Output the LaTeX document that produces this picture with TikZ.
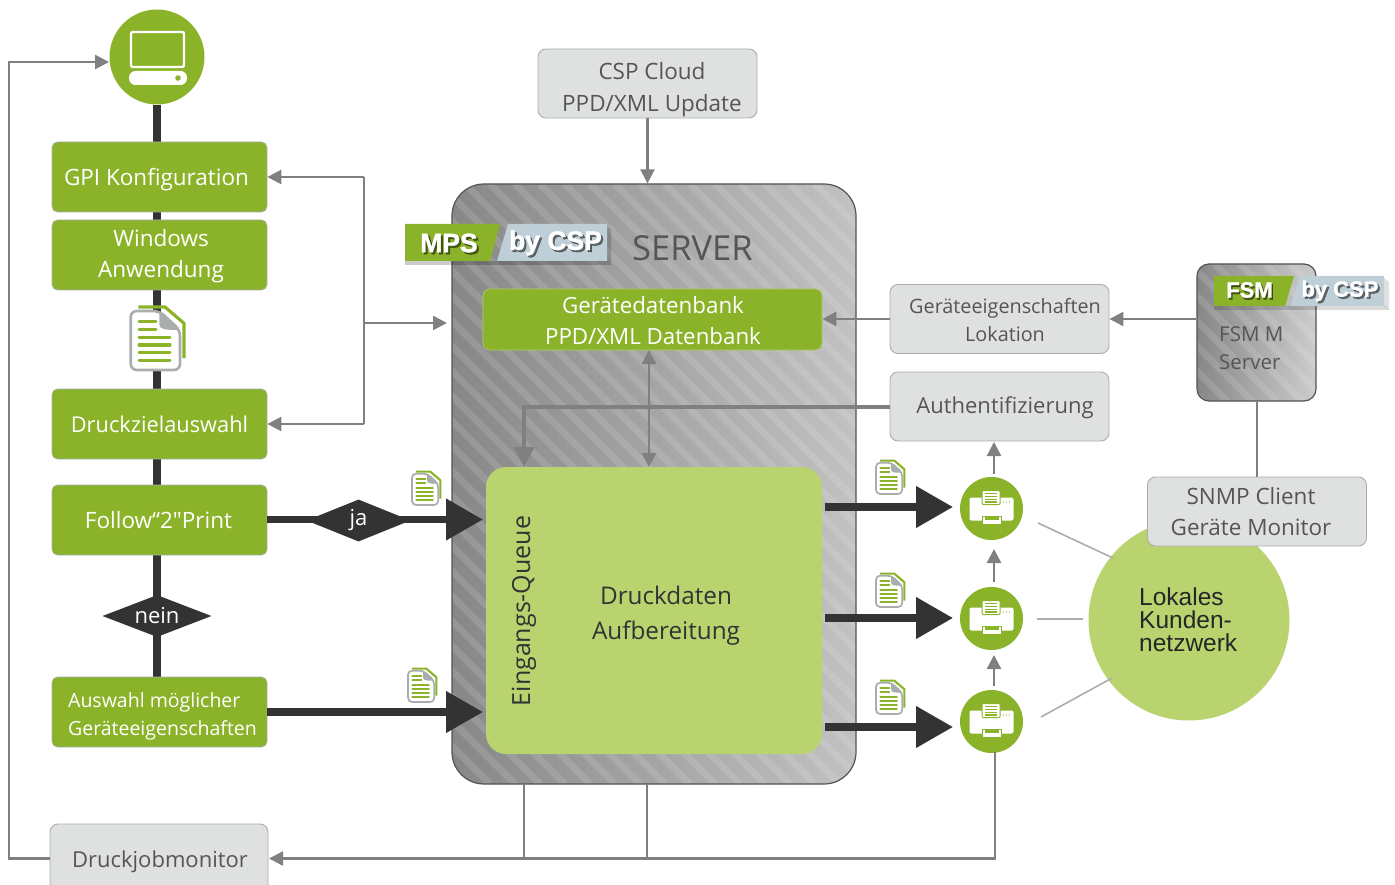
\documentclass[tikz,border=0pt]{standalone}
\usepackage{fontspec}
\setmainfont{Open Sans}
\newfontfamily\rawfont{Open Sans}
\newfontfamily\badgefont{Liberation Sans}[BoldFeatures={FakeBold=1.4}]
\newfontfamily\netfont{Liberation Sans}
\usetikzlibrary{arrows.meta,calc,shapes.geometric}
\pgfdeclarelayer{bg}
\pgfsetlayers{bg,main}
\definecolor{gr}{HTML}{8BB32A}
\definecolor{lgr}{HTML}{B9D46F}
\definecolor{boxg}{HTML}{DFE1E1}
\definecolor{boxb}{HTML}{A9ADAD}
\definecolor{txtg}{HTML}{555555}
\definecolor{conn}{HTML}{808080}
\definecolor{dark}{HTML}{333333}
\definecolor{csp}{HTML}{BFCFD8}
\tikzset{
  x=1pt,y=-1pt,
  greenbox/.style={draw=boxb,line width=.7pt,fill=gr,rounded corners=5.5pt,minimum width=215pt,minimum height=70pt,inner sep=0pt},
  graybox/.style={draw=boxb,line width=.9pt,fill=boxg,rounded corners=8pt,minimum width=219pt,minimum height=69pt,inner sep=0pt},
  glab/.style={text=white,align=center,inner sep=0pt,font=\fontsize{22.5}{31}\selectfont},
  tlab/.style={text=txtg,align=center,inner sep=0pt,font=\fontsize{22.5}{32}\selectfont},
  badge/.style={text=white,inner sep=0pt,font=\badgefont\bfseries\fontsize{26.5}{28}\selectfont},
  badgeshadow/.style={badge,text=black,text opacity=.5},
  diam/.style={diamond,fill=dark,text=white,inner sep=0pt,aspect=2.4,font=\fontsize{22}{26}\selectfont},
  thin conn/.style={draw=conn,line width=2.4pt},
  thin arrow/.style={thin conn,-{Triangle[length=14pt,width=14pt]}},
  thick arrow/.style={draw=dark,line width=7.5pt,-{Triangle[length=37pt,width=40pt]}},
  spine/.style={draw=dark,line width=8pt},
  netline/.style={draw=boxb,line width=1.6pt},
  stripe/.style={draw=white,draw opacity=.12,line width=7pt},
  iconc/.style={circle,fill=gr,draw=none,inner sep=0pt},
  docicon/.pic={
    \draw[gr,line width=#1*3.2pt,line join=round] (-18.7,-31) -- (8,-31) -- (27,-14.7) -- (27,20);
    \draw[fill=white,draw=boxb,line width=#1*2.6pt,rounded corners=#1*6pt] (-26.3,-27) -- (2.3,-27) -- (23,-8) -- (23,32) -- (-26.3,32) -- cycle;
    \fill[boxb] (2.3,-27) -- (2.3,-14) .. controls (2.3,-9) and (6,-8) .. (23,-8) -- cycle;
    \foreach \yy in {-16.3,-8.7} \draw[gr,line width=#1*3pt,line cap=round] (-18,\yy) -- (-1,\yy);
    \foreach \yy in {-.7,7,14.7,22.7} \draw[gr,line width=#1*3pt,line cap=round] (-18,\yy) -- (13,\yy);
  },
  printericon/.pic={
    \fill[white,rounded corners=2pt] (-22,-11) rectangle (22,12);
    \draw[fill=white,draw=gr,line width=1pt,rounded corners=1pt] (-9.5,-18) rectangle (8.5,-4);
    \foreach \yy in {-15,-12,-9,-6.5} \draw[gr,line width=1.1pt] (-6.5,\yy) -- (5.5,\yy);
    \draw[fill=white,draw=gr,line width=1pt] (-9.5,8) -- (9.5,8) -- (9.5,16) -- (-9.5,16) -- cycle;
    \fill[gr] (-7,8) rectangle (7,11.5);
    \foreach \xx in {12,15,18} \fill[gr] (\xx,-6.5) circle (.7);
  },
}
\begin{document}
\begin{tikzpicture}
\useasboundingbox (0,0) rectangle (1395,885);
% server
\path[left color=black!47,right color=black!24] (452,184) [rounded corners=32pt] rectangle (856,784);
\begin{scope}
  \clip[rounded corners=32pt] (452,184) rectangle (856,784);
  \foreach \i in {0,...,42} \draw[stripe] ({-160+25*\i},184) -- ({440+25*\i},784);
\end{scope}
\node[draw=dark!85,line width=1.2pt,rounded corners=32pt,minimum width=404pt,minimum height=600pt,inner sep=0pt] (server) at (654,484) {};
\node[anchor=west,text=txtg,font=\fontsize{34.5}{36}\selectfont,inner sep=0pt] (servlabel) at (632,248) {SERVER};
% MPS badge
\fill[black,opacity=.2] (405,261) -- (607,261) -- (611,265) -- (405,265) -- cycle;
\fill[black,opacity=.16] (607,226) -- (611,230) -- (611,265) -- (607,261) -- cycle;
\fill[gr] (405,224) -- (500,224) -- (490,261) -- (405,261) -- cycle;
\fill[csp] (508,224) -- (607,224) -- (607,261) -- (497,261) -- cycle;
\node[badgeshadow] (mpss) at (451,245) {MPS};
\node[badgeshadow] (bycsps) at (557.5,245) {by CSP};
\node[badge] (mps) at (449,243) {MPS};
\node[badge] (bycsp) at (555.5,243) {by CSP};
% inside server
\node[draw=gr!70!white,line width=.6pt,fill=gr,rounded corners=7pt,minimum width=339pt,minimum height=61pt,inner sep=0pt] (db) at (652.5,319.5) {};
\node[glab,font=\fontsize{22.3}{31}\selectfont] (dbt) at (653,320.5) {Gerätedatenbank\\PPD/XML Datenbank};
\node[fill=lgr,rounded corners=20pt,minimum width=336pt,minimum height=287pt,inner sep=0pt] (queue) at (654,610.5) {};
\node[rotate=90,text=dark,font=\fontsize{25}{28}\selectfont,inner sep=0pt] (eq) at (524,611) {Eingangs-Queue};
\node[text=dark,align=center,font=\fontsize{24.3}{35}\selectfont,inner sep=0pt] (druck) at (666,616) {Druckdaten\\Aufbereitung};
% left column
\node[iconc,minimum size=95pt] (laptop) at (157,57) {};
\draw[white,line width=2.4pt,rounded corners=2pt] (131,32) rectangle (184,67);
\fill[white,rounded corners=6.5pt] (129,71) rectangle (187,85);
\fill[gr] (178,78) circle (2.8);
\node[greenbox] (gpi) at (159.5,177) {};
\node[glab] (gpit) at (156.5,180) {GPI Konfiguration};
\node[greenbox] (win) at (159.5,255) {};
\node[glab] (wint) at (161,256) {Windows\\Anwendung};
\node[greenbox] (drz) at (159.5,424) {};
\node[glab,font=\fontsize{21.8}{30}\selectfont] (drzt) at (159.5,424) {Druckzielauswahl};
\node[greenbox] (f2p) at (159.5,520) {};
\node[glab] (f2pt) at (158.5,520) {Follow“2{\rawfont"}Print};
\node[greenbox] (ausw) at (159.5,712) {};
\node[glab,align=left,font=\fontsize{19.5}{28}\selectfont] (auswt) at (162.5,716) {Auswahl möglicher\\Geräteeigenschaften};
\node[graybox,minimum width=218pt,minimum height=76pt] (mon) at (159,862) {};
\node[tlab,font=\fontsize{22}{30}\selectfont] (mont) at (160,862) {Druckjobmonitor};
\begin{pgfonlayer}{bg}
\draw[spine] (laptop.south) -- (laptop.south |- ausw.north);
\end{pgfonlayer}
\pic at (157,338) {docicon=1};
\pic[scale=.53] at (426,488) {docicon=.66};
\pic[scale=.53] at (422,685) {docicon=.66};
\pic[scale=.53] at (890,477) {docicon=.66};
\pic[scale=.53] at (890,590) {docicon=.66};
\pic[scale=.53] at (890,697) {docicon=.66};
% gray boxes
\node[graybox] (cloud) at (647.5,83.5) {};
\node[tlab] (cloudt) at (652,89.5) {CSP Cloud\\PPD/XML Update};
\node[graybox] (geig) at (999.5,319) {};
\node[tlab,font=\fontsize{19.8}{28}\selectfont] (geigt) at (1005,320) {Geräteeigenschaften\\Lokation};
\node[graybox] (auth) at (999.5,406.5) {};
\node[tlab,font=\fontsize{22}{30}\selectfont] (autht) at (1005,408) {Authentifizierung};
% network
\node[circle,fill=lgr,minimum size=201pt,inner sep=0pt] (net) at (1189,620) {};
\node[graybox] (snmp) at (1257,511.5) {};
\node[tlab,font=\fontsize{22.5}{31}\selectfont] (snmpt) at (1251,512) {SNMP Client\\Geräte Monitor};
\node[anchor=west,align=left,text=black!85,font=\netfont\fontsize{24.5}{23}\selectfont,inner sep=0pt] (lok) at (1139,620) {Lokales\\Kunden-\\netzwerk};
% FSM
\path[left color=black!47,right color=black!20,rounded corners=12pt] (1197,264) rectangle (1316,401);
\begin{scope}
  \clip[rounded corners=12pt] (1197,264) rectangle (1316,401);
  \foreach \i in {0,...,11} \draw[stripe] ({1040+25*\i},264) -- ({1177+25*\i},401);
\end{scope}
\node[draw=dark!85,line width=1.2pt,rounded corners=12pt,minimum width=119pt,minimum height=137pt,inner sep=0pt] (fsm) at (1256.5,332.5) {};
\fill[black,opacity=.15] (1214,306) -- (1385,306) -- (1389,310) -- (1214,310) -- cycle;
\fill[black,opacity=.12] (1384,278) -- (1389,282) -- (1389,310) -- (1384,306) -- cycle;
\fill[gr] (1214,276) -- (1294,276) -- (1285,306) -- (1214,306) -- cycle;
\fill[csp] (1300,276) -- (1384,276) -- (1384,306) -- (1291,306) -- cycle;
\node[badgeshadow,font=\badgefont\bfseries\fontsize{22}{24}\selectfont] (fsmbs) at (1251,292) {FSM};
\node[badgeshadow,font=\badgefont\bfseries\fontsize{22}{24}\selectfont] (fsmcs) at (1342,293) {by CSP};
\node[badge,font=\badgefont\bfseries\fontsize{22}{24}\selectfont] (fsmb) at (1249.5,290) {FSM};
\node[badge,font=\badgefont\bfseries\fontsize{22}{24}\selectfont] (fsmc) at (1340,291) {by CSP};
\node[anchor=west,align=left,text=txtg,font=\fontsize{20.5}{28}\selectfont,inner sep=0pt] (fsml) at (1219,348) {FSM M\\Server};
% printers
\node[iconc,minimum size=63pt] (pa) at (991.5,508.5) {};
\node[iconc,minimum size=63pt] (pb) at (991.5,618.5) {};
\node[iconc,minimum size=63pt] (pc) at (991.5,721.5) {};
\pic at (pa) {printericon};
\pic at (pb) {printericon};
\pic at (pc) {printericon};
% free-end coordinates
\coordinate (srvA) at (483,519.5);
\coordinate (srvB) at (483,712);
\coordinate (hubT) at (364,177);
\coordinate (hubB) at (364,424);
\coordinate (hubM) at (364,323);
\coordinate (srvM) at (447,323);
\coordinate (dbB) at (649,350);
\coordinate (qT) at (649,467);
\coordinate (authQ) at (524,406.5);
\coordinate (qA) at (524,467);
\coordinate (qoA) at (825,507);
\coordinate (qoB) at (825,618);
\coordinate (qoC) at (825,727);
\coordinate (paA) at (953,507);
\coordinate (pbA) at (953,618);
\coordinate (pcA) at (953,727);
\coordinate (upA) at (994,474);
\coordinate (upAt) at (994,442);
\coordinate (upB) at (994,582);
\coordinate (upBt) at (994,549);
\coordinate (upC) at (994,686);
\coordinate (upCt) at (994,655);
\coordinate (botA) at (524,784);
\coordinate (botB) at (647,784);
\coordinate (busA) at (524,858.5);
\coordinate (busB) at (647,858.5);
\coordinate (pcB) at (995,752);
\coordinate (busC) at (995,858.5);
\coordinate (monE) at (269,858.5);
\coordinate (monW) at (50,858.5);
\coordinate (lfB) at (9,858.5);
\coordinate (lfT) at (9,62);
\coordinate (lapW) at (109,62);
\coordinate (nA1) at (1038,523);\coordinate (nA2) at (1113,558);
\coordinate (nB1) at (1037,619);\coordinate (nB2) at (1083,619);
\coordinate (nC1) at (1041,717);\coordinate (nC2) at (1112,678);
% thin connectors
\draw[thin arrow] (cloud.south) -- (cloud.south |- server.north);
\draw[thin conn] (hubT) -- (hubB);
\draw[thin arrow] (hubT) -- (gpi.east);
\draw[thin arrow] (hubB) -- (drz.east);
\draw[thin arrow] (hubM) -- (srvM);
\draw[thin arrow] (geig.west) -- (db.east |- geig.west);
\draw[thin arrow] (fsm.west |- geig.east) -- (geig.east);
\draw[thin conn,{Triangle[length=14pt,width=14pt]}-{Triangle[length=14pt,width=14pt]}] (dbB) -- (qT);
\draw[draw=conn,line width=4pt,-{Triangle[length=20pt,width=20pt]}] (auth.west) -- (authQ) -- (qA);
\draw[thin arrow] (upA) -- (upAt);
\draw[thin arrow] (upB) -- (upBt);
\draw[thin arrow] (upC) -- (upCt);
\draw[thin conn] (fsm.south -| 1257,0) -- (snmp.north);
\draw[thin conn] (botA) -- (busA);
\draw[thin conn] (botB) -- (busB);
\draw[thin arrow] (pcB) -- (busC) -- (monE);
\draw[thin arrow] (monW) -- (lfB) -- (lfT) -- (lapW);
\draw[netline] (nA1) -- (nA2);
\draw[netline] (nB1) -- (nB2);
\draw[netline] (nC1) -- (nC2);
% thick arrows
\draw[thick arrow] (f2p.east |- srvA) -- (srvA);
\draw[thick arrow] (ausw.east) -- (srvB);
\draw[thick arrow] (qoA) -- (paA);
\draw[thick arrow] (qoB) -- (pbA);
\draw[thick arrow] (qoC) -- (pcA);
% diamonds
\node[diam,minimum width=104pt,minimum height=42pt] (ja) at (358.5,520.5) {ja};
\node[diam,minimum width=109pt,minimum height=42pt] (nein) at (157,616) {nein};
\end{tikzpicture}
\end{document}
